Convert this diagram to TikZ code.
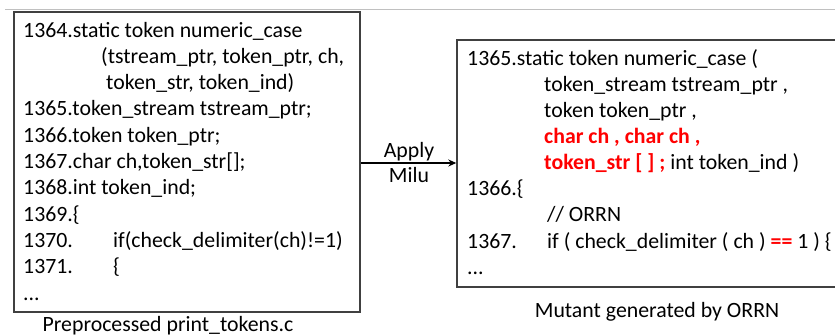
\documentclass[tikz,border=0pt]{standalone}
\usepackage{fontspec}
\setmainfont{Carlito}
\usetikzlibrary{arrows.meta}
\definecolor{boxgray}{HTML}{404040}
\definecolor{rulegray}{HTML}{C0C0C0}
\definecolor{mred}{HTML}{FF0000}
\tikzset{
  code/.style={anchor=base west, inner sep=0pt, font=\fontsize{21.8}{26}\selectfont},
  captext/.style={anchor=base, inner sep=0pt, font=\fontsize{21.8}{26}\selectfont},
  codebox/.style={draw=boxgray, line width=1.4pt, rectangle, inner sep=0pt},
  flow/.style={-{Stealth[length=8pt,width=7pt]}, line width=1.8pt, black},
}
\newcommand{\hl}[1]{\textcolor{mred}{\textbf{#1}}}
\begin{document}
\begin{tikzpicture}[x=1pt,y=-1pt]
\useasboundingbox (0,0) rectangle (835,335);
\draw[rulegray, line width=1pt] (5,9) coordinate (ra) -- (835,9) coordinate (rb);
% boxes
\node[codebox, minimum width=346pt, minimum height=300pt] (L) at (187,162) {};
\node[codebox, minimum width=383pt, minimum height=247pt] (R) at (648.5,163.5) {};
% left code
\node[code] (l1) at (23,37) {1364.static token numeric\_case};
\node[code] (l2) at (101,63.3) {(tstream\_ptr, token\_ptr, ch,};
\node[code] (l3) at (106,89.6) {token\_str, token\_ind)};
\node[code] (l4) at (23,115.9) {1365.token\_stream tstream\_ptr;};
\node[code] (l5) at (23,142.2) {1366.token token\_ptr;};
\node[code] (l6) at (23,168.5) {1367.char ch,token\_str[];};
\node[code] (l7) at (23,194.8) {1368.int token\_ind;};
\node[code] (l8) at (23,221.1) {1369.\{};
\node[code] (l9) at (23,247.4) {1370.};
\node[code] (l9b) at (113,247.4) {if(check\_delimiter(ch)!=1)};
\node[code] (l10) at (23,273.7) {1371.};
\node[code] (l10b) at (113,273.7) {\{};
\node[code] (l11) at (23,300) {...};
% right code
\node[code] (r1t) at (467,65) {1365.static token numeric\_case (};
\node[code] (r2t) at (544,91.1) {token\_stream tstream\_ptr ,};
\node[code] (r3t) at (544,117.3) {token token\_ptr ,};
\node[code] (r4t) at (544,143.4) {\hl{char ch , char ch ,}};
\node[code] (r5t) at (544,169.6) {\hl{token\_str [ ] ;} int token\_ind )};
\node[code] (r6t) at (467,195.7) {1366.\{};
\node[code] (r7t) at (547,221.9) {// ORRN};
\node[code] (r8t) at (467,248) {1367.};
\node[code] (r8b) at (547,248) {if ( check\_delimiter ( ch ) \hl{==} 1 ) \{};
\node[code] (r9t) at (467,274) {...};
% captions
\node[captext] (cl) at (168,331) {Preprocessed print\_tokens.c};
\node[captext] (cr) at (657,317) {Mutant generated by ORRN};
% arrow
\draw[flow] (L.east |- 0,163) -- (R.west |- 0,163);
\node[captext] (ap) at (409,157.3) {Apply};
\node[captext] (mi) at (409,182.7) {Milu};
\end{tikzpicture}
\end{document}
